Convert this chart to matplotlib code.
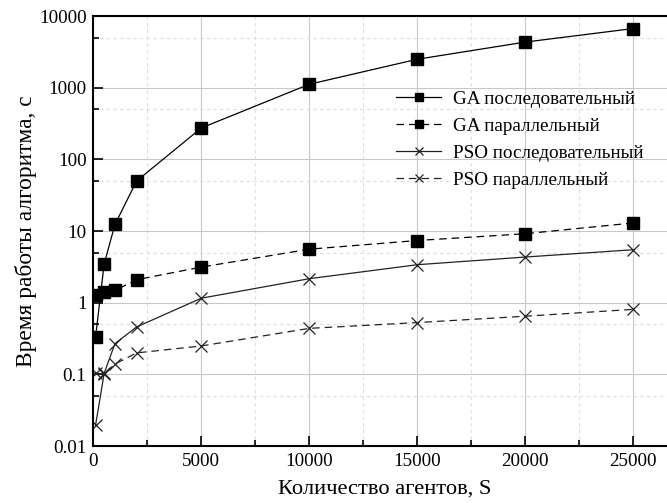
import numpy as np
import matplotlib
matplotlib.use("Agg")
import matplotlib.pyplot as plt
from matplotlib.ticker import FixedLocator, NullFormatter

# ---------------------------------------------------------------------
# Data
# ---------------------------------------------------------------------
agents = [100, 500, 1000, 2000, 5000, 10000, 15000, 20000, 25000]

ga_seq = [0.33, 3.5, 12.4, 50, 275, 1120, 2500, 4340, 6700]
ga_par = [1.27, 1.42, 1.49, 2.1, 3.15, 5.6, 7.4, 9.2, 13.0]
pso_seq = [0.0195, 0.104, 0.27, 0.46, 1.16, 2.17, 3.4, 4.35, 5.5]
pso_par = [0.104, 0.102, 0.14, 0.2, 0.25, 0.44, 0.53, 0.65, 0.81]

labels = ["GA последовательный", "GA параллельный",
          "PSO последовательный", "PSO параллельный"]

y_ticks = [0.01, 0.1, 1, 10, 100, 1000, 10000]
y_tick_labels = ["0.01", "0.1", "1", "10", "100", "1000", "10000"]
x_ticks = [0, 5000, 10000, 15000, 20000, 25000]

plt.rcParams['font.family'] = ['Liberation Serif', 'DejaVu Serif']

fig = plt.figure(figsize=(6.67, 5.03), dpi=100)
# right edge of the axes runs past the figure, as in the cropped original
ax = fig.add_axes([0.14, 0.113, 0.874, 0.855])

ax.plot(agents, ga_seq, '-', color='black', lw=0.9, marker='s', ms=8,
        mfc='black', mec='black', label=labels[0])
ax.plot(agents, ga_par, '--', color='black', lw=0.9, marker='s', ms=8,
        mfc='black', mec='black', dashes=(6, 4), label=labels[1])
ax.plot(agents, pso_seq, '-', color='#222222', lw=0.9, marker='x', ms=8,
        mew=0.9, label=labels[2])
ax.plot(agents, pso_par, '--', color='#222222', lw=0.9, marker='x', ms=8,
        mew=0.9, dashes=(6, 4), label=labels[3])

ax.set_yscale('log')
ax.set_ylim(0.01, 10000)
ax.set_xlim(0, 27000)

ax.yaxis.set_major_locator(FixedLocator(y_ticks))
ax.set_yticklabels(y_tick_labels)
ax.yaxis.set_minor_locator(FixedLocator([0.05, 0.5, 5, 50, 500, 5000]))
ax.yaxis.set_minor_formatter(NullFormatter())

ax.xaxis.set_major_locator(FixedLocator(x_ticks))
ax.xaxis.set_minor_locator(FixedLocator([2500, 7500, 12500, 17500, 22500]))

ax.grid(which='major', color='#c8c8c8', lw=0.8, ls='-')
ax.grid(which='minor', color='#dddddd', lw=0.8, ls=(0, (3, 3)))
ax.set_axisbelow(True)

ax.tick_params(which='both', direction='in', labelsize=13.7, width=1.2)
ax.tick_params(which='major', length=7)
ax.tick_params(which='minor', length=4)
ax.tick_params(axis='x', pad=5)
ax.tick_params(axis='y', pad=5)

for side in ['left', 'bottom', 'top']:
    ax.spines[side].set_linewidth(1.5)
ax.spines['right'].set_visible(False)

ax.set_xlabel("Количество агентов, S", fontsize=16.2, labelpad=7)
ax.set_ylabel("Время работы алгоритма, с", fontsize=16.8, labelpad=1)

ax.legend(loc='upper left', bbox_to_anchor=(0.49, 0.868), frameon=False,
          fontsize=13.8, handlelength=2.35, labelspacing=0.5,
          handletextpad=0.6, markerscale=0.75)

fig.savefig("out.png", dpi=100)
